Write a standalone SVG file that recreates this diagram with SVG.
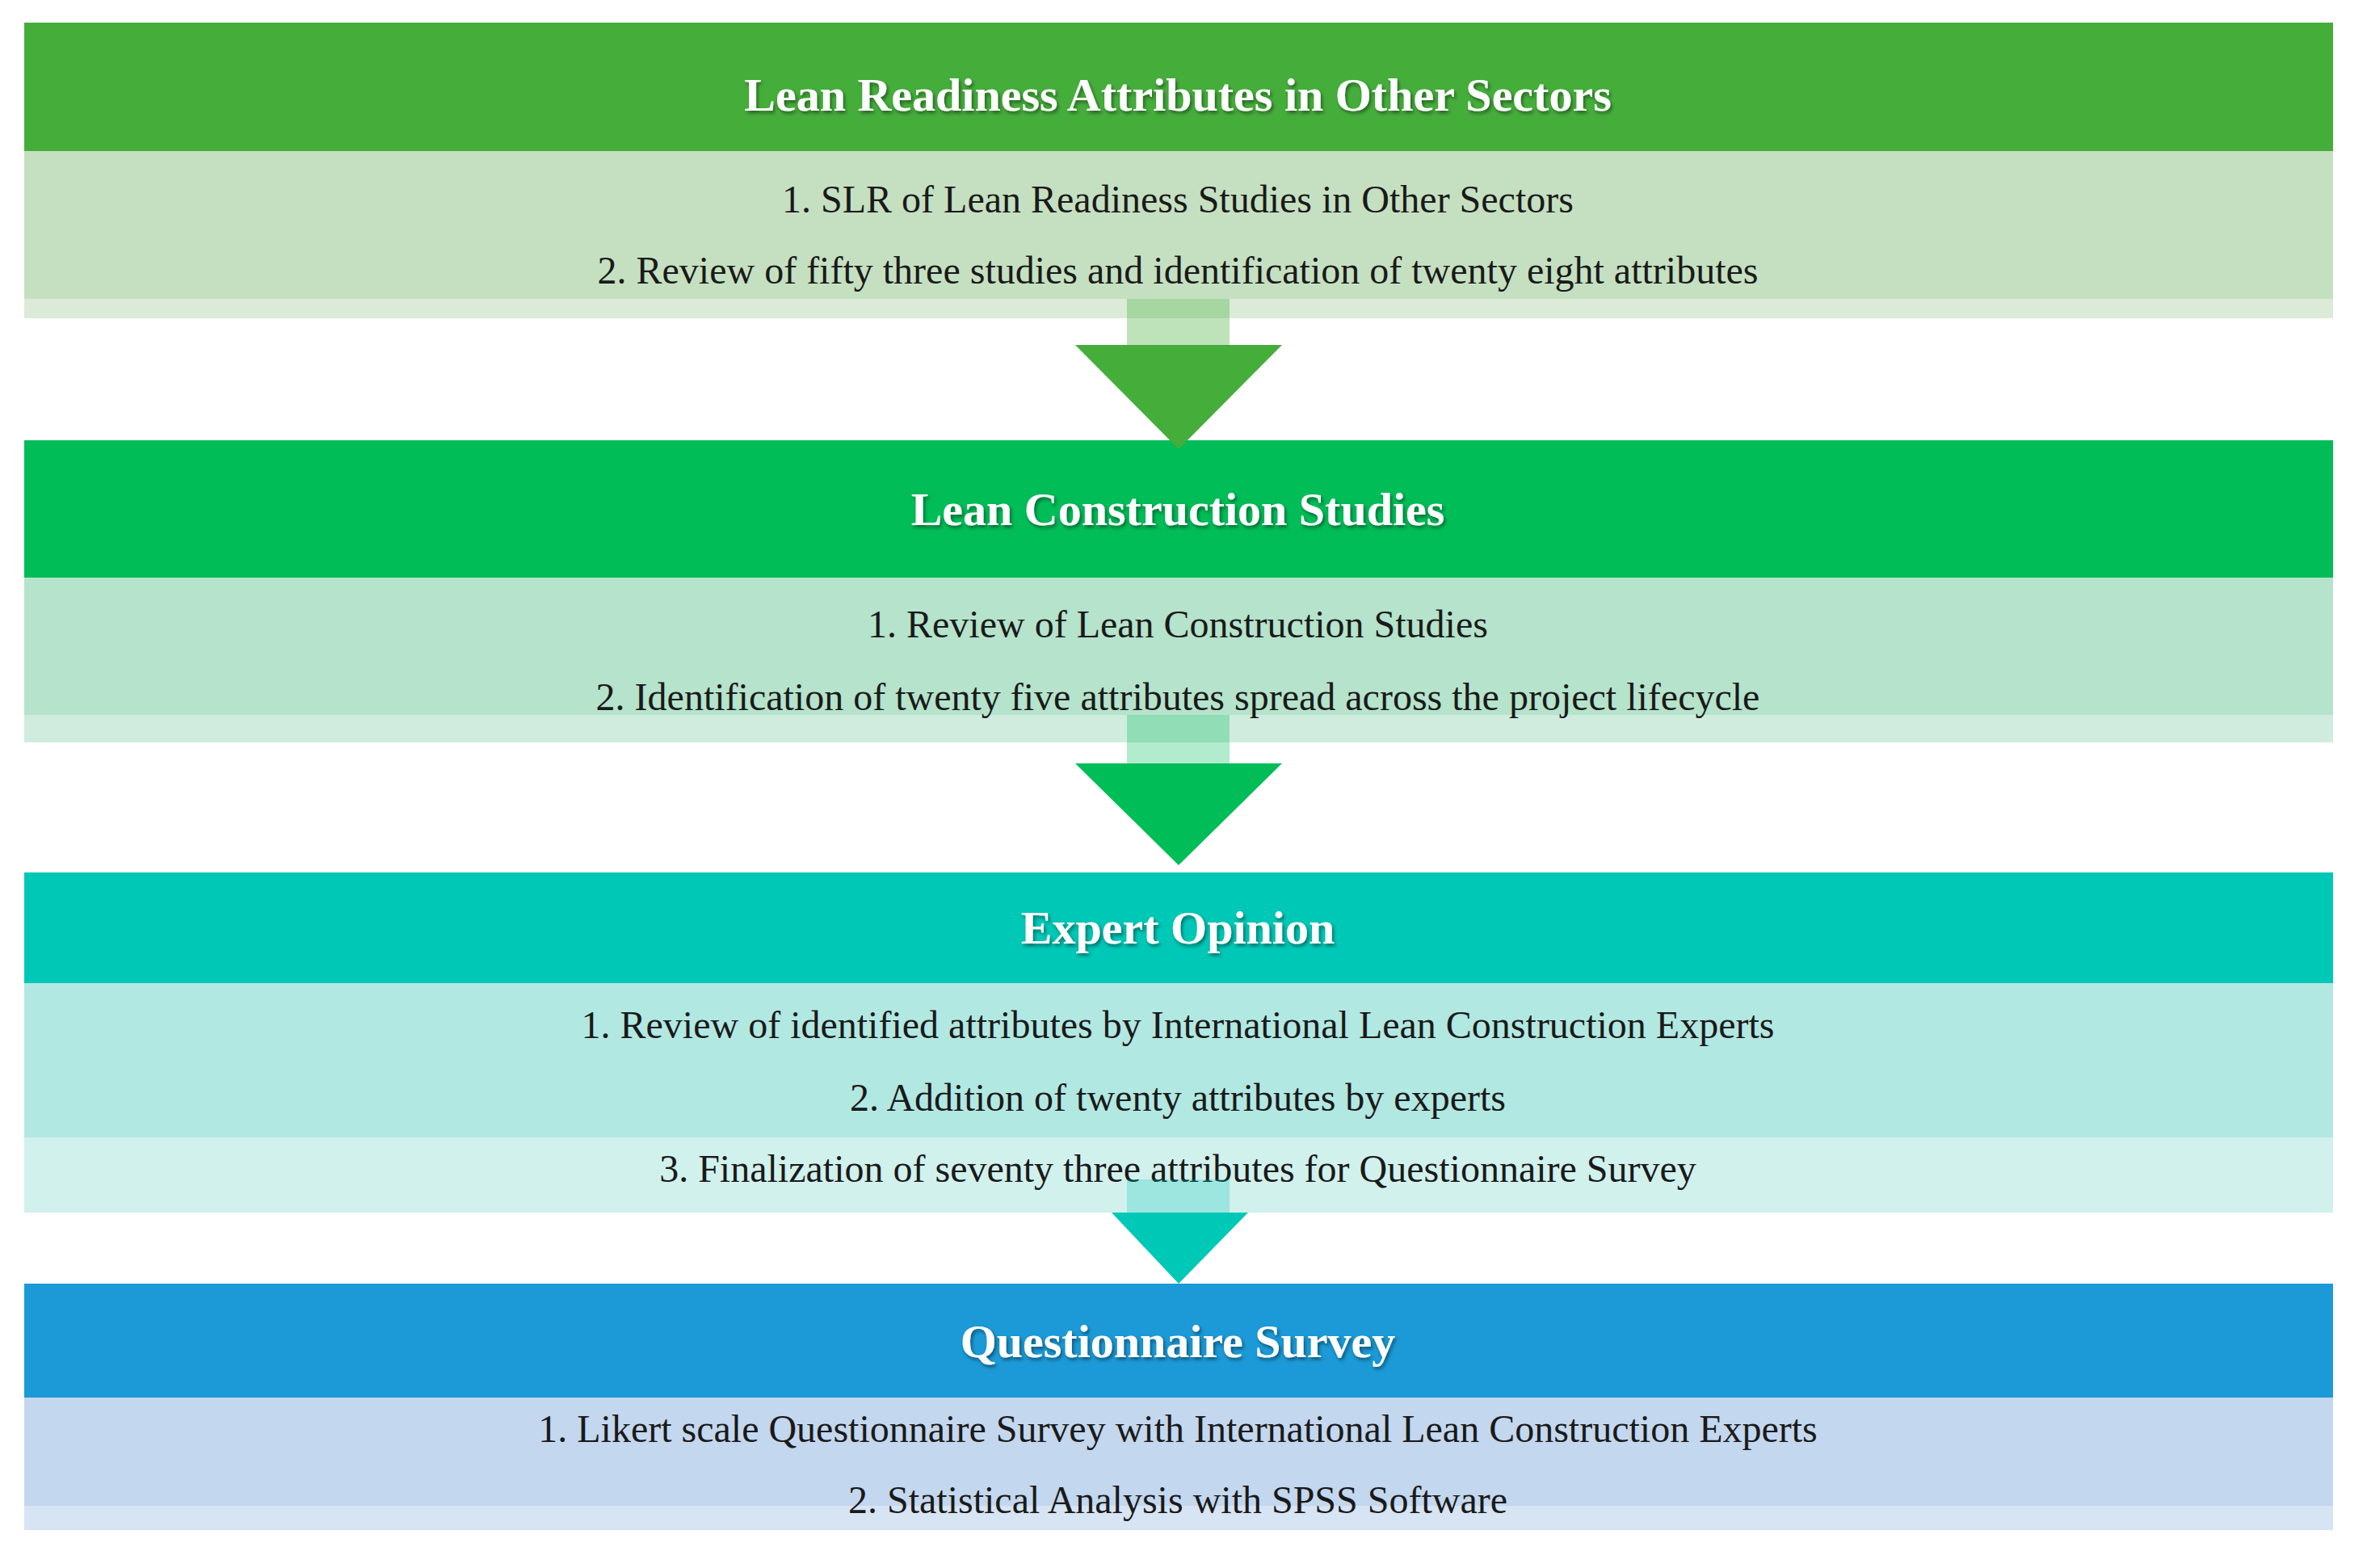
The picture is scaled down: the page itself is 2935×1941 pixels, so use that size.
<svg xmlns="http://www.w3.org/2000/svg" width="2935" height="1941" viewBox="0 0 2935 1941">
<style>
.h{font-family:"Liberation Serif",serif;font-weight:bold;font-size:58px;fill:#fff;text-anchor:middle}
.t{font-family:"Liberation Serif",serif;font-size:48px;fill:#1a1a1a;text-anchor:middle}
</style>
<defs>
<filter id="sh" x="-5%" y="-20%" width="110%" height="140%"><feDropShadow dx="2" dy="3" stdDeviation="2" flood-color="#000" flood-opacity="0.45"/></filter>
</defs>
<rect width="2935" height="1941" fill="#fff"/>
<g id="block1">
<rect x="30" y="28" width="2858" height="159" fill="#45ae3b"/>
<rect x="30" y="187" width="2858" height="183" fill="#c5e0c1"/>
<rect x="30" y="370" width="2858" height="24" fill="#dbebd8"/>
<text class="h" x="1458" y="137" filter="url(#sh)">Lean Readiness Attributes in Other Sectors</text>
<text class="t" x="1458" y="263">1. SLR of Lean Readiness Studies in Other Sectors</text>
<text class="t" x="1458" y="351">2. Review of fifty three studies and identification of twenty eight attributes</text>
</g>
<g id="block2">
<rect x="30" y="545" width="2858" height="170" fill="#00bd58"/>
<rect x="30" y="715" width="2858" height="170" fill="#b5e3cb"/>
<rect x="30" y="885" width="2858" height="34" fill="#d0ecde"/>
<text class="h" x="1458" y="650" filter="url(#sh)">Lean Construction Studies</text>
<text class="t" x="1458" y="789">1. Review of Lean Construction Studies</text>
<text class="t" x="1458" y="879">2. Identification of twenty five attributes spread across the project lifecycle</text>
</g>
<g id="block3">
<rect x="30" y="1080" width="2858" height="137" fill="#00c8b7"/>
<rect x="30" y="1217" width="2858" height="191" fill="#b2e8e2"/>
<rect x="30" y="1408" width="2858" height="93" fill="#d1f1ed"/>
<text class="h" x="1458" y="1168" filter="url(#sh)">Expert Opinion</text>
<text class="t" x="1458" y="1285">1. Review of identified attributes by International Lean Construction Experts</text>
<text class="t" x="1458" y="1375">2. Addition of twenty attributes by experts</text>
<text class="t" x="1458" y="1463">3. Finalization of seventy three attributes for Questionnaire Survey</text>
</g>
<g id="block4">
<rect x="30" y="1589" width="2858" height="141" fill="#1b9ad7"/>
<rect x="30" y="1730" width="2858" height="134" fill="#c3d7ee"/>
<rect x="30" y="1864" width="2858" height="30" fill="#d7e4f3"/>
<text class="h" x="1458" y="1680" filter="url(#sh)">Questionnaire Survey</text>
<text class="t" x="1458" y="1785">1. Likert scale Questionnaire Survey with International Lean Construction Experts</text>
<text class="t" x="1458" y="1873">2. Statistical Analysis with SPSS Software</text>
</g>
<g id="connectors">
<rect x="1395" y="370" width="127" height="57" fill="#45ae3b" opacity="0.35"/>
<polygon points="1331,427 1587,427 1459,556" fill="#45ae3b"/>
<rect x="1395" y="885" width="127" height="60" fill="#00bd58" opacity="0.3"/>
<polygon points="1331,945 1587,945 1459,1071" fill="#00bd58"/>
<rect x="1395" y="1460" width="127" height="41" fill="#00c8b7" opacity="0.25"/>
<polygon points="1376,1501 1545,1501 1459,1589" fill="#00c8b7"/>
</g>
</svg>
